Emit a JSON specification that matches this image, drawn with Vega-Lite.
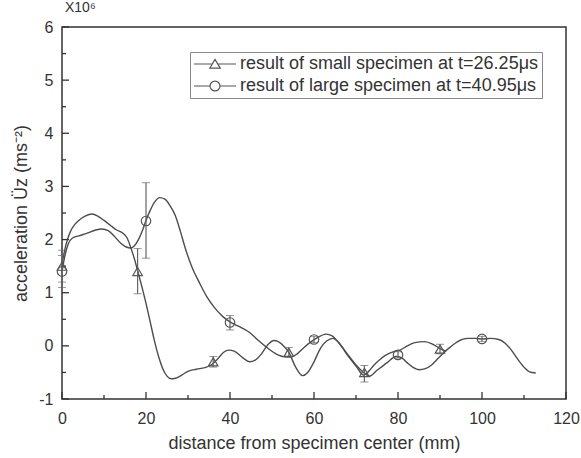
{
  "$schema": "https://vega.github.io/schema/vega-lite/v6.json",
  "width": 504,
  "height": 372,
  "autosize": {"type": "none"},
  "padding": {"left": 62, "top": 27, "right": 15, "bottom": 59},
  "background": "white",
  "config": {
    "view": {"stroke": "#333", "strokeWidth": 1.5},
    "font": "Liberation Sans",
    "axis": {
      "domainColor": "#333", "domainWidth": 1.5, "tickColor": "#333", "tickWidth": 1.3,
      "labelColor": "#333", "labelFont": "Liberation Sans", "labelFontSize": 16,
      "titleFont": "Liberation Sans", "titleFontSize": 18, "titleFontWeight": "normal", "titleColor": "#333",
      "grid": false
    }
  },
  "title": {"text": "X10⁶", "anchor": "start", "frame": "group", "fontSize": 14, "font": "Liberation Sans", "fontWeight": "normal", "color": "#333", "offset": 4, "dx": 3},
  "datasets": {
    "curves": [
      {"series": "small", "x": 0, "y": 1.55}, {"series": "small", "x": 1, "y": 1.92}, {"series": "small", "x": 2, "y": 2.15}, {"series": "small", "x": 3, "y": 2.28}, {"series": "small", "x": 4, "y": 2.36}, {"series": "small", "x": 5.5, "y": 2.44}, {"series": "small", "x": 7.2, "y": 2.48}, {"series": "small", "x": 8.5, "y": 2.44}, {"series": "small", "x": 10, "y": 2.36}, {"series": "small", "x": 11.5, "y": 2.27}, {"series": "small", "x": 13, "y": 2.18}, {"series": "small", "x": 14.5, "y": 2.12}, {"series": "small", "x": 15.5, "y": 2.03}, {"series": "small", "x": 16.5, "y": 1.82}, {"series": "small", "x": 17.3, "y": 1.62}, {"series": "small", "x": 18, "y": 1.42}, {"series": "small", "x": 19, "y": 1.12}, {"series": "small", "x": 20, "y": 0.8}, {"series": "small", "x": 21, "y": 0.45}, {"series": "small", "x": 22, "y": 0.1}, {"series": "small", "x": 23, "y": -0.2}, {"series": "small", "x": 24, "y": -0.43}, {"series": "small", "x": 25, "y": -0.57}, {"series": "small", "x": 26, "y": -0.62}, {"series": "small", "x": 27, "y": -0.61}, {"series": "small", "x": 28.5, "y": -0.55}, {"series": "small", "x": 30, "y": -0.48}, {"series": "small", "x": 32, "y": -0.44}, {"series": "small", "x": 34, "y": -0.41}, {"series": "small", "x": 35.5, "y": -0.36}, {"series": "small", "x": 37, "y": -0.25}, {"series": "small", "x": 38.5, "y": -0.12}, {"series": "small", "x": 39.7, "y": -0.08}, {"series": "small", "x": 41, "y": -0.1}, {"series": "small", "x": 43, "y": -0.22}, {"series": "small", "x": 44.7, "y": -0.3}, {"series": "small", "x": 46, "y": -0.27}, {"series": "small", "x": 47.5, "y": -0.15}, {"series": "small", "x": 49, "y": 0.02}, {"series": "small", "x": 50.5, "y": 0.1}, {"series": "small", "x": 51.5, "y": 0.08}, {"series": "small", "x": 53, "y": -0.02}, {"series": "small", "x": 54, "y": -0.12}, {"series": "small", "x": 55.5, "y": -0.38}, {"series": "small", "x": 57.3, "y": -0.56}, {"series": "small", "x": 58.5, "y": -0.5}, {"series": "small", "x": 60, "y": -0.3}, {"series": "small", "x": 61.5, "y": -0.05}, {"series": "small", "x": 63, "y": 0.09}, {"series": "small", "x": 64.5, "y": 0.14}, {"series": "small", "x": 66, "y": 0.05}, {"series": "small", "x": 68, "y": -0.18}, {"series": "small", "x": 70, "y": -0.38}, {"series": "small", "x": 71.8, "y": -0.55}, {"series": "small", "x": 73, "y": -0.48}, {"series": "small", "x": 74.3, "y": -0.36}, {"series": "small", "x": 75.5, "y": -0.27}, {"series": "small", "x": 77, "y": -0.18}, {"series": "small", "x": 79, "y": -0.11}, {"series": "small", "x": 80.5, "y": -0.08}, {"series": "small", "x": 82, "y": -0.01}, {"series": "small", "x": 84, "y": 0.06}, {"series": "small", "x": 86.3, "y": 0.08}, {"series": "small", "x": 88.3, "y": 0.03}, {"series": "small", "x": 90, "y": -0.05}, {"series": "small", "x": 91.5, "y": -0.1},
      {"series": "large", "x": 0, "y": 1.4}, {"series": "large", "x": 0.7, "y": 1.7}, {"series": "large", "x": 1.5, "y": 1.92}, {"series": "large", "x": 2.5, "y": 2.03}, {"series": "large", "x": 4, "y": 2.07}, {"series": "large", "x": 6, "y": 2.12}, {"series": "large", "x": 8, "y": 2.18}, {"series": "large", "x": 9.5, "y": 2.2}, {"series": "large", "x": 11, "y": 2.17}, {"series": "large", "x": 12.5, "y": 2.06}, {"series": "large", "x": 14, "y": 1.93}, {"series": "large", "x": 15.3, "y": 1.86}, {"series": "large", "x": 16.3, "y": 1.84}, {"series": "large", "x": 17.2, "y": 1.88}, {"series": "large", "x": 18.2, "y": 2.0}, {"series": "large", "x": 19.2, "y": 2.18}, {"series": "large", "x": 20, "y": 2.36}, {"series": "large", "x": 21, "y": 2.55}, {"series": "large", "x": 22, "y": 2.7}, {"series": "large", "x": 23.3, "y": 2.79}, {"series": "large", "x": 24.5, "y": 2.76}, {"series": "large", "x": 25.7, "y": 2.64}, {"series": "large", "x": 27, "y": 2.45}, {"series": "large", "x": 28.2, "y": 2.15}, {"series": "large", "x": 29.5, "y": 1.8}, {"series": "large", "x": 31, "y": 1.47}, {"series": "large", "x": 32.7, "y": 1.19}, {"series": "large", "x": 34.5, "y": 0.92}, {"series": "large", "x": 36.5, "y": 0.7}, {"series": "large", "x": 38.3, "y": 0.55}, {"series": "large", "x": 40, "y": 0.45}, {"series": "large", "x": 42, "y": 0.37}, {"series": "large", "x": 44.5, "y": 0.26}, {"series": "large", "x": 46.5, "y": 0.12}, {"series": "large", "x": 48.6, "y": -0.02}, {"series": "large", "x": 50.5, "y": -0.13}, {"series": "large", "x": 52.5, "y": -0.2}, {"series": "large", "x": 54.5, "y": -0.21}, {"series": "large", "x": 56, "y": -0.15}, {"series": "large", "x": 57.5, "y": -0.04}, {"series": "large", "x": 59, "y": 0.06}, {"series": "large", "x": 60.5, "y": 0.14}, {"series": "large", "x": 62.9, "y": 0.22}, {"series": "large", "x": 64.3, "y": 0.19}, {"series": "large", "x": 66, "y": 0.05}, {"series": "large", "x": 68, "y": -0.16}, {"series": "large", "x": 70, "y": -0.36}, {"series": "large", "x": 71.8, "y": -0.5}, {"series": "large", "x": 73.2, "y": -0.57}, {"series": "large", "x": 75, "y": -0.46}, {"series": "large", "x": 77.5, "y": -0.31}, {"series": "large", "x": 79.5, "y": -0.2}, {"series": "large", "x": 80.8, "y": -0.22}, {"series": "large", "x": 82.2, "y": -0.32}, {"series": "large", "x": 83.5, "y": -0.4}, {"series": "large", "x": 85.1, "y": -0.45}, {"series": "large", "x": 86.5, "y": -0.43}, {"series": "large", "x": 88, "y": -0.36}, {"series": "large", "x": 89.5, "y": -0.24}, {"series": "large", "x": 91, "y": -0.12}, {"series": "large", "x": 92.5, "y": -0.02}, {"series": "large", "x": 94.2, "y": 0.08}, {"series": "large", "x": 96.6, "y": 0.14}, {"series": "large", "x": 98.5, "y": 0.14}, {"series": "large", "x": 100, "y": 0.13}, {"series": "large", "x": 102, "y": 0.14}, {"series": "large", "x": 104, "y": 0.12}, {"series": "large", "x": 105.5, "y": 0.05}, {"series": "large", "x": 107, "y": -0.08}, {"series": "large", "x": 108.5, "y": -0.25}, {"series": "large", "x": 110, "y": -0.4}, {"series": "large", "x": 111.3, "y": -0.49}, {"series": "large", "x": 112.8, "y": -0.51}
    ],
    "markers": [
      {"series": "result of small specimen at t=26.25μs", "x": 0, "y": 1.5, "lo": 1.2, "hi": 1.8},
      {"series": "result of small specimen at t=26.25μs", "x": 18, "y": 1.4, "lo": 0.98, "hi": 1.83},
      {"series": "result of small specimen at t=26.25μs", "x": 36, "y": -0.3, "lo": -0.4, "hi": -0.2},
      {"series": "result of small specimen at t=26.25μs", "x": 54, "y": -0.12, "lo": -0.2, "hi": -0.03},
      {"series": "result of small specimen at t=26.25μs", "x": 72, "y": -0.5, "lo": -0.68, "hi": -0.37},
      {"series": "result of small specimen at t=26.25μs", "x": 90, "y": -0.06, "lo": -0.15, "hi": 0.03},
      {"series": "result of large specimen at t=40.95μs", "x": 0, "y": 1.4, "lo": 1.1, "hi": 1.7},
      {"series": "result of large specimen at t=40.95μs", "x": 20, "y": 2.35, "lo": 1.65, "hi": 3.07},
      {"series": "result of large specimen at t=40.95μs", "x": 40, "y": 0.44, "lo": 0.3, "hi": 0.57},
      {"series": "result of large specimen at t=40.95μs", "x": 60, "y": 0.12, "lo": 0.06, "hi": 0.18},
      {"series": "result of large specimen at t=40.95μs", "x": 80, "y": -0.17, "lo": -0.23, "hi": -0.11},
      {"series": "result of large specimen at t=40.95μs", "x": 100, "y": 0.13, "lo": 0.08, "hi": 0.18}
    ],
    "xticks": [{"v": 0}, {"v": 10}, {"v": 20}, {"v": 30}, {"v": 40}, {"v": 50}, {"v": 60}, {"v": 70}, {"v": 80}, {"v": 90}, {"v": 100}, {"v": 110}, {"v": 120}],
    "yticks": [{"v": -1}, {"v": -0.5}, {"v": 0}, {"v": 0.5}, {"v": 1}, {"v": 1.5}, {"v": 2}, {"v": 2.5}, {"v": 3}, {"v": 3.5}, {"v": 4}, {"v": 4.5}, {"v": 5}, {"v": 5.5}, {"v": 6}]
  },
  "resolve": {"scale": {"shape": "independent"}, "legend": {"shape": "independent"}},
  "layer": [
    {
      "data": {"name": "curves"},
      "mark": {"type": "line", "interpolate": "monotone", "color": "#4d4d4d", "strokeWidth": 1.4},
      "encoding": {
        "x": {"field": "x", "type": "quantitative", "title": "distance from specimen center (mm)", "scale": {"domain": [0, 120], "nice": false},
          "axis": {"title": "distance from specimen center (mm)", "values": [0, 20, 40, 60, 80, 100, 120],
            "labelExpr": "'' + datum.value", "ticks": false, "domain": false, "labelPadding": 11, "titlePadding": 8, "labelFlush": false}},
        "y": {"field": "y", "type": "quantitative", "title": "acceleration Üz (ms⁻²)", "scale": {"domain": [-1, 6], "nice": false},
          "axis": {"title": "acceleration Üz (ms⁻²)", "values": [-1, 0, 1, 2, 3, 4, 5, 6],
            "labelExpr": "'' + datum.value", "ticks": false, "domain": false, "labelPadding": 9, "titlePadding": 8, "labelFlush": false}},
        "detail": {"field": "series"}
      }
    },
    {
      "data": {"name": "xticks"},
      "mark": {"type": "tick", "orient": "vertical", "color": "#333", "opacity": 1, "thickness": 1.3,
        "size": {"expr": "datum.v % 20 === 0 ? 7 : 4"}, "yOffset": {"expr": "datum.v % 20 === 0 ? -3.5 : -2"}},
      "encoding": {
        "x": {"field": "v", "type": "quantitative", "title": "distance from specimen center (mm)"},
        "y": {"datum": -1, "type": "quantitative", "title": "acceleration Üz (ms⁻²)"}
      }
    },
    {
      "data": {"name": "yticks"},
      "mark": {"type": "tick", "orient": "horizontal", "color": "#333", "opacity": 1, "thickness": 1.3,
        "size": {"expr": "datum.v % 1 === 0 ? 7 : 4"}, "xOffset": {"expr": "datum.v % 1 === 0 ? 3.5 : 2"}},
      "encoding": {
        "y": {"field": "v", "type": "quantitative", "title": "acceleration Üz (ms⁻²)"},
        "x": {"datum": 0, "type": "quantitative", "title": "distance from specimen center (mm)"}
      }
    },
    {
      "data": {"name": "markers"},
      "mark": {"type": "errorbar", "ticks": {"size": 8, "color": "#666"}, "rule": {"color": "#666", "strokeWidth": 1.2}},
      "encoding": {
        "x": {"field": "x", "type": "quantitative", "title": "distance from specimen center (mm)"},
        "y": {"field": "lo", "type": "quantitative", "title": "acceleration Üz (ms⁻²)"},
        "y2": {"field": "hi"}
      }
    },
    {
      "data": {"name": "markers"},
      "mark": {"type": "point", "filled": false, "color": "#555", "strokeWidth": 1.2, "size": 90, "opacity": 1},
      "encoding": {
        "x": {"field": "x", "type": "quantitative", "title": "distance from specimen center (mm)"},
        "y": {"field": "y", "type": "quantitative", "title": "acceleration Üz (ms⁻²)"},
        "shape": {"field": "series", "type": "nominal", "legend": null,
          "scale": {"domain": ["result of small specimen at t=26.25μs", "result of large specimen at t=40.95μs"], "range": ["triangle-up", "circle"]}}
      }
    },
    {
      "data": {"name": "markers"},
      "mark": {"type": "point", "filled": false, "color": "#555", "strokeWidth": 1.2, "size": 196, "opacity": 0},
      "encoding": {
        "x": {"field": "x", "type": "quantitative", "title": "distance from specimen center (mm)"},
        "y": {"field": "y", "type": "quantitative", "title": "acceleration Üz (ms⁻²)"},
        "shape": {"field": "series", "type": "nominal",
          "scale": {"domain": ["result of small specimen at t=26.25μs", "result of large specimen at t=40.95μs"],
            "range": ["M-3,0H-0.36M0.36,0H3M-0.75,0.6L0,-0.66L0.75,0.6Z", "M-3,0H-0.71M0.71,0H3M-0.71,0A0.71,0.71 0 1,0 0.71,0A0.71,0.71 0 1,0 -0.71,0"]},
          "legend": {"title": null, "orient": "none", "legendX": 128, "legendY": 25, "symbolSize": 196, "symbolStrokeWidth": 1.2, "symbolOpacity": 1,
            "symbolStrokeColor": "#555", "symbolFillColor": "transparent", "symbolOffset": 13, "labelFont": "Liberation Sans", "labelFontSize": 18, "labelColor": "#333",
            "strokeColor": "#888", "fillColor": "white", "padding": 3, "rowPadding": 4, "labelLimit": 500, "labelOffset": 16}
        }
      }
    }
  ]
}
